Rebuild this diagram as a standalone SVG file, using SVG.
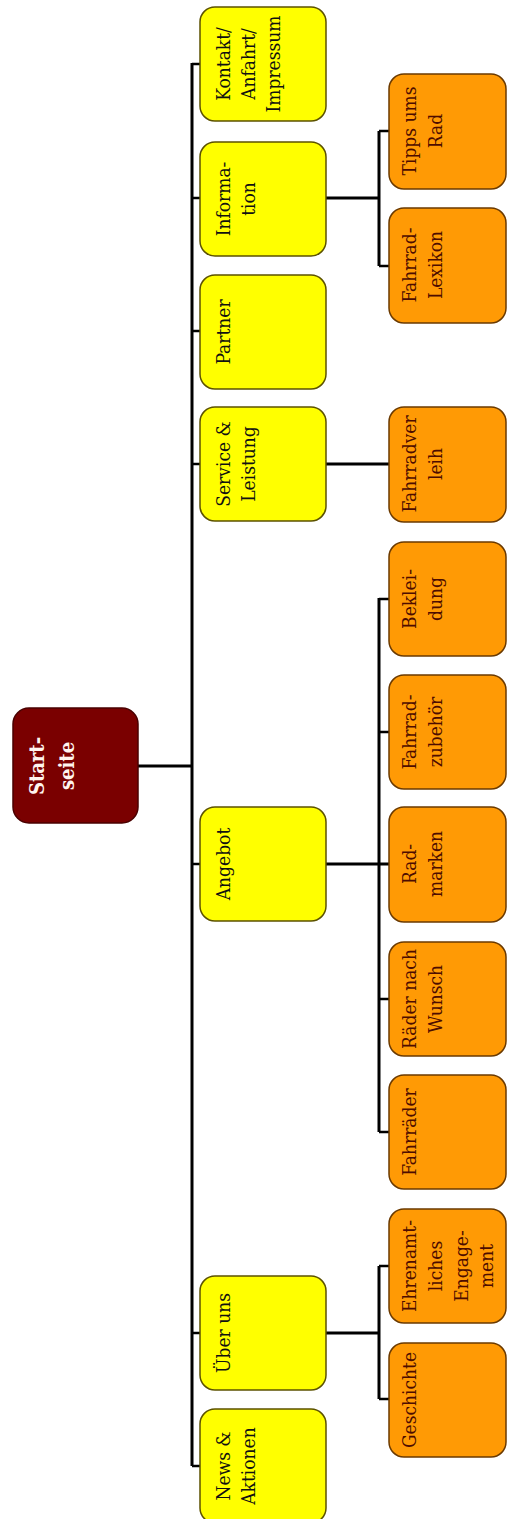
<svg xmlns="http://www.w3.org/2000/svg" width="507" height="1519" viewBox="0 0 507 1519">
<style>
text{font-family:'DejaVu Serif Condensed','DejaVu Serif','Liberation Serif',serif;font-stretch:condensed;text-anchor:middle}
.y rect{fill:#ffff00;stroke:#5c5200;stroke-width:1.5}
.o rect{fill:#ff9a05;stroke:#6b3a00;stroke-width:1.5}
.y text{font-size:19px;fill:#111}
.o text{font-size:19px;fill:#4d0c00}
.s rect{fill:#7a0000;stroke:#4a0000;stroke-width:1.5}
.s text{font-size:20px;font-weight:bold;fill:#fff4ee}
.c path{fill:none;stroke:#000;stroke-width:3}
.c .t{stroke-width:2.5}
</style>
<g class="c" id="connectors">
<path d="M138 766H192M192 63V1466"/>
<path class="t" d="M192 64H200M192 198H200M192 331H200M192 464H200M192 864H200M192 1333H200M192 1466H200"/>
<path d="M326 198H379M379 131V266"/>
<path class="t" d="M379 131H389M379 266H389"/>
<path d="M326 464H389"/>
<path d="M326 864H389M379 598V1132"/>
<path class="t" d="M379 599H389M379 732H389M379 999H389M379 1132H389"/>
<path d="M326 1333H379M379 1266V1399"/>
<path class="t" d="M379 1266H389M379 1399H389"/>
</g>
<g id="startseite" class="s"><rect x="13" y="708" width="125" height="115" rx="16"/>
<text transform="translate(13,766) rotate(-90)"><tspan x="0" y="31">Start-</tspan><tspan x="0" y="61">seite</tspan></text></g>
<g id="kontakt" class="y"><rect x="200" y="7" width="126" height="114" rx="15"/>
<text transform="translate(200,64) rotate(-90)"><tspan x="0" y="30">Kontakt/</tspan><tspan x="0" y="55">Anfahrt/</tspan><tspan x="0" y="80">Impressum</tspan></text></g>
<g id="information" class="y"><rect x="200" y="142" width="126" height="114" rx="15"/>
<text transform="translate(200,199) rotate(-90)"><tspan x="0" y="30">Informa-</tspan><tspan x="0" y="55">tion</tspan></text></g>
<g id="partner" class="y"><rect x="200" y="275" width="126" height="114" rx="15"/>
<text transform="translate(200,332) rotate(-90)"><tspan x="0" y="30">Partner</tspan></text></g>
<g id="service" class="y"><rect x="200" y="407" width="126" height="114" rx="15"/>
<text transform="translate(200,464) rotate(-90)"><tspan x="0" y="30">Service &amp;</tspan><tspan x="0" y="55">Leistung</tspan></text></g>
<g id="angebot" class="y"><rect x="200" y="807" width="126" height="114" rx="15"/>
<text transform="translate(200,864) rotate(-90)"><tspan x="0" y="30">Angebot</tspan></text></g>
<g id="ueberuns" class="y"><rect x="200" y="1276" width="126" height="114" rx="15"/>
<text transform="translate(200,1333) rotate(-90)"><tspan x="0" y="30">Über uns</tspan></text></g>
<g id="news" class="y"><rect x="200" y="1409" width="126" height="114" rx="15"/>
<text transform="translate(200,1466) rotate(-90)"><tspan x="0" y="30">News &amp;</tspan><tspan x="0" y="55">Aktionen</tspan></text></g>
<g id="tipps" class="o"><rect x="389" y="74" width="117" height="115" rx="15"/>
<text transform="translate(389,131) rotate(-90)"><tspan x="0" y="27">Tipps ums</tspan><tspan x="0" y="53">Rad</tspan></text></g>
<g id="lexikon" class="o"><rect x="389" y="208" width="117" height="115" rx="15"/>
<text transform="translate(389,265) rotate(-90)"><tspan x="0" y="27">Fahrrad-</tspan><tspan x="0" y="53">Lexikon</tspan></text></g>
<g id="verleih" class="o"><rect x="389" y="407" width="117" height="115" rx="15"/>
<text transform="translate(389,464) rotate(-90)"><tspan x="0" y="27">Fahrradver</tspan><tspan x="0" y="53">leih</tspan></text></g>
<g id="bekleidung" class="o"><rect x="389" y="542" width="117" height="114" rx="15"/>
<text transform="translate(389,599) rotate(-90)"><tspan x="0" y="27">Beklei-</tspan><tspan x="0" y="53">dung</tspan></text></g>
<g id="zubehoer" class="o"><rect x="389" y="675" width="117" height="114" rx="15"/>
<text transform="translate(389,732) rotate(-90)"><tspan x="0" y="27">Fahrrad-</tspan><tspan x="0" y="53">zubehör</tspan></text></g>
<g id="radmarken" class="o"><rect x="389" y="807" width="117" height="115" rx="15"/>
<text transform="translate(389,864) rotate(-90)"><tspan x="0" y="27">Rad-</tspan><tspan x="0" y="53">marken</tspan></text></g>
<g id="wunsch" class="o"><rect x="389" y="942" width="117" height="114" rx="15"/>
<text transform="translate(389,999) rotate(-90)"><tspan x="0" y="27">Räder nach</tspan><tspan x="0" y="53">Wunsch</tspan></text></g>
<g id="fahrraeder" class="o"><rect x="389" y="1075" width="117" height="114" rx="15"/>
<text transform="translate(389,1132) rotate(-90)"><tspan x="0" y="27">Fahrräder</tspan></text></g>
<g id="ehrenamt" class="o"><rect x="389" y="1209" width="117" height="114" rx="15"/>
<text transform="translate(389,1266) rotate(-90)"><tspan x="0" y="27">Ehrenamt-</tspan><tspan x="0" y="53">liches</tspan><tspan x="0" y="79">Engage-</tspan><tspan x="0" y="104">ment</tspan></text></g>
<g id="geschichte" class="o"><rect x="389" y="1343" width="117" height="114" rx="15"/>
<text transform="translate(389,1400) rotate(-90)"><tspan x="0" y="27">Geschichte</tspan></text></g>
</svg>
